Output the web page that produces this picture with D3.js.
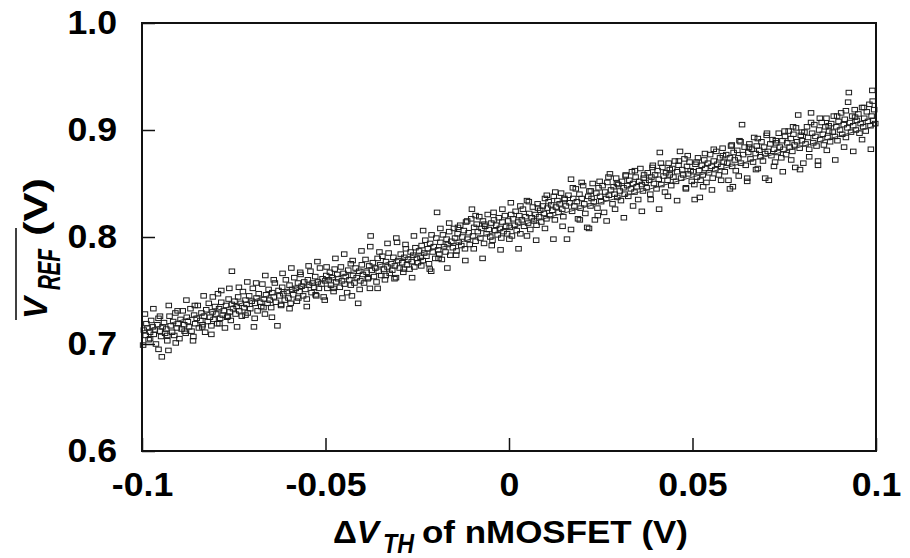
<!DOCTYPE html>
<html>
<head>
<meta charset="utf-8">
<script src="https://cdn.jsdelivr.net/npm/d3@7"></script>
<style>
  body { margin: 0; background: #fff; }
  text { font-family: "Liberation Sans", Arial, sans-serif; font-weight: bold; }
</style>
</head>
<body>
<script>
// ticks
var xTicks = [-0.1, -0.05, 0, 0.05, 0.1];
var xTickLabels = ["-0.1", "-0.05", "0", "0.05", "0.1"];
var yTicks = [0.6, 0.7, 0.8, 0.9, 1.0];
var yTickLabels = ["0.6", "0.7", "0.8", "0.9", "1.0"];

// fitted line
var fitX = [-0.1, 0.1];
var fitY = [0.712, 0.904];

var ptsA = [[-0.0995,0.713],[-0.0990,0.708],[-0.0988,0.719],[-0.0985,0.715],[-0.0982,0.704],[-0.0978,0.711],[-0.0975,0.722],[-0.0971,0.716],[-0.0968,0.709],[-0.0965,0.713],[-0.0962,0.700],[-0.0958,0.718],[-0.0955,0.724],[-0.0951,0.712],[-0.0948,0.707],[-0.0946,0.688],[-0.0944,0.716],[-0.0940,0.720],[-0.0937,0.710],[-0.0934,0.714],[-0.0931,0.703],[-0.0928,0.694],[-0.0925,0.726],[-0.0922,0.717],[-0.0918,0.711],[-0.0915,0.721],[-0.0912,0.708],[-0.0909,0.729],[-0.0905,0.715],[-0.0902,0.719],[-0.0898,0.705],[-0.0895,0.723],[-0.0892,0.714],[-0.0889,0.731],[-0.0885,0.718],[-0.0881,0.710],[-0.0878,0.725],[-0.0875,0.721],[-0.0872,0.716],[-0.0868,0.733],[-0.0865,0.712],[-0.0861,0.703],[-0.0858,0.727],[-0.0855,0.719],[-0.0851,0.724],[-0.0848,0.736],[-0.0845,0.715],[-0.0841,0.722],[-0.0838,0.729],[-0.0835,0.718],[-0.0831,0.726],[-0.0828,0.711],[-0.0825,0.732],[-0.0821,0.721],[-0.0818,0.738],[-0.0815,0.725],[-0.0811,0.717],[-0.0808,0.730],[-0.0805,0.723],[-0.0801,0.735],[-0.0798,0.728],[-0.0795,0.719],[-0.0793,0.747],[-0.0790,0.733],[-0.0787,0.724],[-0.0784,0.739],[-0.0780,0.727],[-0.0777,0.731],[-0.0774,0.715],[-0.0771,0.736],[-0.0768,0.725],[-0.0764,0.742],[-0.0761,0.730],[-0.0758,0.722],[-0.0755,0.768],[-0.0755,0.737],[-0.0752,0.733]];
var ptsB = [[-0.0748,0.740],[-0.0745,0.728],[-0.0742,0.735],[-0.0738,0.744],[-0.0735,0.731],[-0.0731,0.738],[-0.0728,0.726],[-0.0725,0.749],[-0.0722,0.734],[-0.0718,0.741],[-0.0715,0.737],[-0.0712,0.729],[-0.0708,0.745],[-0.0705,0.733],[-0.0701,0.740],[-0.0698,0.752],[-0.0695,0.716],[-0.0692,0.738],[-0.0688,0.743],[-0.0685,0.731],[-0.0682,0.747],[-0.0678,0.739],[-0.0675,0.735],[-0.0672,0.756],[-0.0668,0.742],[-0.0665,0.728],[-0.0662,0.746],[-0.0658,0.738],[-0.0655,0.751],[-0.0652,0.741],[-0.0648,0.734],[-0.0645,0.748],[-0.0641,0.744],[-0.0638,0.757],[-0.0635,0.739],[-0.0631,0.717],[-0.0628,0.750],[-0.0625,0.745],[-0.0621,0.736],[-0.0618,0.753],[-0.0615,0.747],[-0.0611,0.741],[-0.0608,0.760],[-0.0605,0.749],[-0.0601,0.743],[-0.0598,0.755],[-0.0595,0.738],[-0.0591,0.751],[-0.0588,0.746],[-0.0585,0.762],[-0.0581,0.752],[-0.0578,0.740],[-0.0575,0.757],[-0.0571,0.749],[-0.0568,0.765],[-0.0565,0.754],[-0.0561,0.745],[-0.0558,0.758],[-0.0555,0.751],[-0.0551,0.742],[-0.0548,0.760],[-0.0545,0.755],[-0.0541,0.768],[-0.0538,0.748],[-0.0535,0.757],[-0.0531,0.753],[-0.0528,0.763],[-0.0525,0.745],[-0.0521,0.758],[-0.0518,0.752],[-0.0515,0.771],[-0.0511,0.756],[-0.0508,0.761],[-0.0505,0.744],[-0.0501,0.759]];
var ptsC = [[-0.0498,0.764],[-0.0495,0.752],[-0.0491,0.760],[-0.0488,0.767],[-0.0485,0.755],[-0.0481,0.762],[-0.0478,0.749],[-0.0475,0.770],[-0.0471,0.758],[-0.0468,0.765],[-0.0465,0.761],[-0.0461,0.753],[-0.0458,0.772],[-0.0455,0.759],[-0.0451,0.766],[-0.0448,0.756],[-0.0445,0.763],[-0.0441,0.748],[-0.0438,0.769],[-0.0435,0.760],[-0.0431,0.775],[-0.0428,0.745],[-0.0425,0.764],[-0.0421,0.757],[-0.0418,0.771],[-0.0415,0.762],[-0.0411,0.738],[-0.0408,0.768],[-0.0405,0.759],[-0.0401,0.774],[-0.0398,0.765],[-0.0395,0.757],[-0.0391,0.779],[-0.0388,0.767],[-0.0385,0.761],[-0.0381,0.773],[-0.0379,0.752],[-0.0377,0.801],[-0.0374,0.769],[-0.0371,0.776],[-0.0368,0.763],[-0.0364,0.771],[-0.0361,0.758],[-0.0358,0.780],[-0.0355,0.768],[-0.0351,0.774],[-0.0348,0.764],[-0.0345,0.782],[-0.0341,0.770],[-0.0338,0.760],[-0.0335,0.777],[-0.0331,0.772],[-0.0328,0.785],[-0.0325,0.766],[-0.0321,0.775],[-0.0318,0.769],[-0.0315,0.781],[-0.0311,0.773],[-0.0308,0.762],[-0.0305,0.795],[-0.0302,0.778],[-0.0298,0.771],[-0.0295,0.784],[-0.0291,0.776],[-0.0288,0.767],[-0.0285,0.781],[-0.0281,0.789],[-0.0278,0.774],[-0.0275,0.779],[-0.0271,0.770],[-0.0268,0.786],[-0.0265,0.777],[-0.0261,0.783],[-0.0258,0.772],[-0.0255,0.790],[-0.0251,0.780]];
var ptsD = [[-0.0248,0.776],[-0.0245,0.787],[-0.0241,0.781],[-0.0238,0.792],[-0.0235,0.778],[-0.0231,0.785],[-0.0228,0.797],[-0.0225,0.782],[-0.0221,0.789],[-0.0218,0.775],[-0.0215,0.794],[-0.0212,0.768],[-0.0208,0.786],[-0.0205,0.791],[-0.0201,0.780],[-0.0198,0.799],[-0.0196,0.823],[-0.0193,0.788],[-0.0190,0.784],[-0.0187,0.795],[-0.0183,0.779],[-0.0180,0.802],[-0.0177,0.791],[-0.0173,0.786],[-0.0170,0.798],[-0.0167,0.793],[-0.0163,0.805],[-0.0160,0.783],[-0.0157,0.796],[-0.0153,0.790],[-0.0150,0.808],[-0.0147,0.799],[-0.0143,0.787],[-0.0140,0.803],[-0.0137,0.795],[-0.0133,0.811],[-0.0130,0.792],[-0.0127,0.800],[-0.0123,0.806],[-0.0120,0.789],[-0.0117,0.814],[-0.0113,0.798],[-0.0110,0.804],[-0.0107,0.793],[-0.0103,0.817],[-0.0101,0.826],[-0.0098,0.801],[-0.0095,0.809],[-0.0091,0.796],[-0.0088,0.812],[-0.0085,0.805],[-0.0081,0.819],[-0.0078,0.799],[-0.0075,0.808],[-0.0071,0.815],[-0.0068,0.794],[-0.0065,0.810],[-0.0061,0.803],[-0.0058,0.821],[-0.0055,0.807],[-0.0051,0.800],[-0.0048,0.813],[-0.0045,0.797],[-0.0041,0.816],[-0.0038,0.806],[-0.0035,0.811],[-0.0031,0.802],[-0.0028,0.818],[-0.0025,0.808],[-0.0021,0.799],[-0.0018,0.814],[-0.0015,0.805],[-0.0011,0.820],[-0.0008,0.810],[-0.0005,0.803],[-0.0002,0.815]];
var ptsE = [[0.0002,0.809],[0.0005,0.832],[0.0008,0.801],[0.0011,0.817],[0.0015,0.811],[0.0018,0.824],[0.0021,0.806],[0.0025,0.814],[0.0028,0.820],[0.0031,0.803],[0.0035,0.816],[0.0038,0.826],[0.0041,0.810],[0.0045,0.819],[0.0049,0.834],[0.0052,0.813],[0.0055,0.822],[0.0058,0.807],[0.0062,0.818],[0.0065,0.828],[0.0068,0.815],[0.0072,0.821],[0.0075,0.811],[0.0078,0.831],[0.0082,0.819],[0.0085,0.825],[0.0088,0.814],[0.0092,0.829],[0.0095,0.822],[0.0098,0.836],[0.0102,0.817],[0.0105,0.827],[0.0108,0.833],[0.0112,0.820],[0.0115,0.830],[0.0118,0.825],[0.0122,0.838],[0.0125,0.816],[0.0128,0.828],[0.0132,0.834],[0.0135,0.823],[0.0138,0.831],[0.0142,0.841],[0.0145,0.826],[0.0148,0.819],[0.0152,0.835],[0.0155,0.829],[0.0158,0.798],[0.0162,0.839],[0.0165,0.832],[0.0169,0.854],[0.0172,0.824],[0.0175,0.836],[0.0178,0.829],[0.0182,0.845],[0.0185,0.833],[0.0188,0.817],[0.0192,0.840],[0.0195,0.827],[0.0198,0.836],[0.0202,0.848],[0.0205,0.831],[0.0208,0.822],[0.0213,0.809],[0.0216,0.838],[0.0219,0.843],[0.0222,0.829],[0.0225,0.836],[0.0228,0.850],[0.0231,0.833],[0.0234,0.816],[0.0238,0.841],[0.0241,0.827],[0.0244,0.846],[0.0248,0.838]];
var ptsF = [[0.0251,0.833],[0.0255,0.848],[0.0259,0.823],[0.0262,0.842],[0.0265,0.836],[0.0268,0.851],[0.0272,0.839],[0.0275,0.859],[0.0278,0.844],[0.0282,0.831],[0.0285,0.847],[0.0288,0.840],[0.0292,0.855],[0.0295,0.837],[0.0298,0.849],[0.0302,0.843],[0.0305,0.834],[0.0308,0.852],[0.0312,0.846],[0.0315,0.840],[0.0318,0.857],[0.0322,0.848],[0.0325,0.838],[0.0328,0.853],[0.0332,0.845],[0.0335,0.861],[0.0338,0.850],[0.0342,0.842],[0.0345,0.856],[0.0348,0.847],[0.0352,0.835],[0.0355,0.852],[0.0358,0.864],[0.0362,0.849],[0.0365,0.843],[0.0368,0.858],[0.0372,0.851],[0.0375,0.846],[0.0378,0.860],[0.0382,0.853],[0.0385,0.840],[0.0388,0.856],[0.0392,0.867],[0.0395,0.850],[0.0398,0.858],[0.0402,0.845],[0.0405,0.862],[0.0408,0.854],[0.0411,0.879],[0.0415,0.849],[0.0418,0.865],[0.0421,0.857],[0.0425,0.842],[0.0428,0.860],[0.0432,0.853],[0.0435,0.869],[0.0438,0.858],[0.0442,0.848],[0.0445,0.864],[0.0448,0.856],[0.0452,0.871],[0.0455,0.852],[0.0458,0.861],[0.0462,0.867],[0.0466,0.880],[0.0469,0.855],[0.0472,0.863],[0.0475,0.858],[0.0478,0.873],[0.0482,0.846],[0.0485,0.866],[0.0488,0.859],[0.0492,0.870],[0.0495,0.862],[0.0498,0.852]];
var ptsG = [[0.0502,0.861],[0.0505,0.849],[0.0508,0.868],[0.0512,0.856],[0.0515,0.874],[0.0518,0.862],[0.0520,0.837],[0.0522,0.853],[0.0525,0.867],[0.0528,0.858],[0.0532,0.872],[0.0535,0.864],[0.0538,0.851],[0.0542,0.869],[0.0545,0.860],[0.0548,0.877],[0.0552,0.866],[0.0555,0.855],[0.0558,0.871],[0.0562,0.863],[0.0565,0.880],[0.0568,0.868],[0.0572,0.858],[0.0575,0.874],[0.0578,0.866],[0.0582,0.883],[0.0585,0.870],[0.0588,0.861],[0.0592,0.877],[0.0595,0.869],[0.0598,0.853],[0.0602,0.874],[0.0605,0.885],[0.0608,0.866],[0.0610,0.847],[0.0612,0.879],[0.0615,0.872],[0.0618,0.862],[0.0622,0.881],[0.0625,0.874],[0.0628,0.890],[0.0632,0.869],[0.0635,0.905],[0.0638,0.877],[0.0642,0.884],[0.0645,0.867],[0.0649,0.855],[0.0652,0.879],[0.0655,0.887],[0.0658,0.873],[0.0662,0.882],[0.0665,0.870],[0.0668,0.893],[0.0672,0.878],[0.0675,0.885],[0.0678,0.864],[0.0682,0.881],[0.0685,0.875],[0.0688,0.889],[0.0692,0.871],[0.0695,0.884],[0.0698,0.878],[0.0702,0.895],[0.0705,0.880],[0.0708,0.853],[0.0712,0.887],[0.0715,0.876],[0.0718,0.891],[0.0722,0.882],[0.0725,0.870],[0.0728,0.888],[0.0732,0.879],[0.0735,0.897],[0.0738,0.884],[0.0742,0.874],[0.0745,0.890]];
var ptsH = [[0.0748,0.882],[0.0752,0.894],[0.0755,0.877],[0.0758,0.888],[0.0762,0.899],[0.0765,0.884],[0.0768,0.892],[0.0772,0.880],[0.0775,0.896],[0.0778,0.886],[0.0780,0.865],[0.0782,0.902],[0.0785,0.889],[0.0788,0.914],[0.0792,0.883],[0.0795,0.895],[0.0798,0.890],[0.0802,0.869],[0.0805,0.898],[0.0808,0.887],[0.0812,0.903],[0.0815,0.893],[0.0818,0.882],[0.0823,0.916],[0.0826,0.897],[0.0829,0.888],[0.0832,0.905],[0.0835,0.894],[0.0838,0.885],[0.0842,0.867],[0.0845,0.900],[0.0848,0.891],[0.0852,0.907],[0.0855,0.896],[0.0858,0.886],[0.0862,0.903],[0.0865,0.911],[0.0868,0.893],[0.0872,0.899],[0.0875,0.889],[0.0878,0.906],[0.0882,0.898],[0.0885,0.913],[0.0888,0.894],[0.0892,0.903],[0.0895,0.890],[0.0898,0.908],[0.0902,0.900],[0.0905,0.916],[0.0908,0.896],[0.0912,0.905],[0.0915,0.910],[0.0918,0.893],[0.0922,0.902],[0.0924,0.926],[0.0926,0.935],[0.0929,0.907],[0.0932,0.898],[0.0935,0.913],[0.0938,0.904],[0.0942,0.919],[0.0945,0.900],[0.0948,0.909],[0.0952,0.915],[0.0955,0.897],[0.0958,0.906],[0.0962,0.921],[0.0965,0.903],[0.0968,0.911],[0.0972,0.899],[0.0975,0.917],[0.0978,0.908],[0.0982,0.924],[0.0985,0.904],[0.0988,0.913],[0.0990,0.937],[0.0992,0.909],[0.0995,0.919],[0.0998,0.906]];
// wider edges of the band
var ptsUpper = [[-0.0992,0.728],[-0.0969,0.733],[-0.0951,0.726],[-0.0927,0.736],[-0.0903,0.731],[-0.0879,0.741],[-0.0856,0.736],[-0.0832,0.745],[-0.0807,0.744],[-0.0784,0.750],[-0.0762,0.752],[-0.0736,0.753],[-0.0713,0.758],[-0.0689,0.757],[-0.0664,0.764],[-0.0641,0.760],[-0.0617,0.766],[-0.0593,0.771],[-0.0569,0.767],[-0.0546,0.773],[-0.0522,0.777],[-0.0497,0.772],[-0.0473,0.780],[-0.0449,0.784],[-0.0426,0.778],[-0.0402,0.787],[-0.0378,0.791],[-0.0353,0.786],[-0.0331,0.794],[-0.0307,0.799],[-0.0282,0.793],[-0.0259,0.801],[-0.0234,0.806],[-0.0211,0.802],[-0.0187,0.808],[-0.0163,0.813],[-0.0139,0.809],[-0.0114,0.815],[-0.0091,0.820],[-0.0067,0.812],[-0.0042,0.823],[-0.0018,0.826],[0.0006,0.821],[0.0031,0.829],[0.0054,0.833],[0.0079,0.827],[0.0103,0.839],[0.0126,0.842],[0.0151,0.836],[0.0174,0.846],[0.0198,0.851],[0.0223,0.843],[0.0247,0.852],[0.0271,0.856],[0.0294,0.850],[0.0318,0.858],[0.0343,0.862],[0.0367,0.855],[0.0391,0.865],[0.0414,0.869],[0.0438,0.863],[0.0463,0.871],[0.0487,0.876],[0.0511,0.870],[0.0534,0.878],[0.0558,0.882],[0.0583,0.876],[0.0607,0.886],[0.0631,0.889],[0.0654,0.884],[0.0678,0.892],[0.0703,0.897],[0.0727,0.890],[0.0751,0.899],[0.0774,0.903],[0.0798,0.898],[0.0823,0.907],[0.0847,0.911],[0.0871,0.904],[0.0894,0.913],[0.0918,0.918],[0.0943,0.912],[0.0967,0.921],[0.0991,0.927]];
var ptsLower = [[-0.0997,0.699],[-0.0978,0.705],[-0.0955,0.695],[-0.0931,0.708],[-0.0908,0.701],[-0.0884,0.712],[-0.0860,0.707],[-0.0836,0.716],[-0.0811,0.709],[-0.0789,0.719],[-0.0766,0.726],[-0.0741,0.716],[-0.0718,0.727],[-0.0693,0.724],[-0.0669,0.734],[-0.0646,0.725],[-0.0621,0.737],[-0.0598,0.733],[-0.0574,0.743],[-0.0551,0.735],[-0.0527,0.746],[-0.0502,0.741],[-0.0478,0.752],[-0.0454,0.743],[-0.0431,0.755],[-0.0407,0.751],[-0.0383,0.762],[-0.0358,0.752],[-0.0336,0.764],[-0.0312,0.761],[-0.0287,0.770],[-0.0264,0.762],[-0.0239,0.773],[-0.0216,0.770],[-0.0192,0.780],[-0.0168,0.771],[-0.0144,0.783],[-0.0119,0.778],[-0.0096,0.789],[-0.0072,0.780],[-0.0047,0.792],[-0.0023,0.788],[0.0001,0.798],[0.0026,0.789],[0.0049,0.801],[0.0074,0.797],[0.0098,0.808],[0.0121,0.798],[0.0146,0.810],[0.0169,0.807],[0.0193,0.816],[0.0218,0.808],[0.0242,0.820],[0.0266,0.815],[0.0289,0.826],[0.0313,0.818],[0.0338,0.829],[0.0362,0.824],[0.0386,0.835],[0.0409,0.826],[0.0433,0.838],[0.0458,0.834],[0.0482,0.845],[0.0506,0.835],[0.0529,0.847],[0.0553,0.844],[0.0578,0.853],[0.0602,0.845],[0.0626,0.857],[0.0649,0.852],[0.0673,0.863],[0.0698,0.855],[0.0722,0.866],[0.0746,0.861],[0.0769,0.872],[0.0793,0.863],[0.0818,0.875],[0.0842,0.871],[0.0866,0.881],[0.0889,0.872],[0.0913,0.884],[0.0938,0.880],[0.0962,0.891],[0.0986,0.882]];

var points = ptsA.concat(ptsB, ptsC, ptsD, ptsE, ptsF, ptsG, ptsH, ptsUpper, ptsLower);

var svg = d3.select("body").append("svg")
  .attr("width", 910)
  .attr("height", 558);

var x = d3.scaleLinear().domain([-0.1, 0.1]).range([142, 876]);
var y = d3.scaleLinear().domain([0.6, 1.0]).range([451, 23]);

// 把文字横向拉宽一点，原图字形偏宽
function widen(sel, k) {
  sel.each(function () {
    var w = this.getComputedTextLength();
    d3.select(this).attr("textLength", w * k).attr("lengthAdjust", "spacingAndGlyphs");
  });
}

// 坐标轴，刻度朝内
var xAxis = svg.append("g")
  .attr("transform", "translate(0,451)")
  .call(d3.axisBottom(x).tickValues(xTicks).tickSize(-13).tickPadding(22)
    .tickFormat(function (d, i) { return xTickLabels[i]; }));
var yAxis = svg.append("g")
  .attr("transform", "translate(142,0)")
  .call(d3.axisLeft(y).tickValues(yTicks).tickSize(-13).tickPadding(25)
    .tickFormat(function (d, i) { return yTickLabels[i]; }));

[xAxis, yAxis].forEach(function (a) {
  a.attr("font-size", null).attr("font-family", null);
  a.select(".domain").remove();
  a.selectAll(".tick line").attr("stroke", "#111").attr("stroke-width", 1.5);
  a.selectAll(".tick text").attr("fill", "#000").style("font-size", "33px");
  widen(a.selectAll(".tick text"), 1.08);
});

// 散点
svg.append("g").selectAll("rect")
  .data(points)
  .enter().append("rect")
  .attr("x", function (d) { return x(d[0]) - 2.75; })
  .attr("y", function (d) { return y(d[1]) - 2.25; })
  .attr("width", 5.5)
  .attr("height", 4.5)
  .attr("fill", "none")
  .attr("stroke", "#1a1a1a")
  .attr("stroke-width", 1);

// 拟合线
svg.append("line")
  .attr("x1", x(fitX[0])).attr("y1", y(fitY[0]))
  .attr("x2", x(fitX[1])).attr("y2", y(fitY[1]))
  .attr("stroke", "#333")
  .attr("stroke-width", 1);

// 边框
svg.append("rect")
  .attr("x", 142).attr("y", 23)
  .attr("width", 734).attr("height", 428)
  .attr("fill", "none")
  .attr("stroke", "#111")
  .attr("stroke-width", 2);

// x 轴标题
var xa = svg.append("text")
  .attr("x", 333).attr("y", 543)
  .attr("textLength", 46).attr("lengthAdjust", "spacingAndGlyphs")
  .style("font-size", "32px");
xa.append("tspan").text("\u0394");
xa.append("tspan").style("font-style", "italic").text("V");
svg.append("text")
  .attr("x", 383).attr("y", 553)
  .attr("textLength", 31).attr("lengthAdjust", "spacingAndGlyphs")
  .style("font-size", "28px").style("font-style", "italic")
  .text("TH");
svg.append("text")
  .attr("x", 422).attr("y", 543)
  .attr("textLength", 266).attr("lengthAdjust", "spacingAndGlyphs")
  .style("font-size", "32px")
  .text("of nMOSFET (V)");

// y 轴标题，带上划线
var yg = svg.append("g").attr("transform", "translate(47,320) rotate(-90)");
yg.append("text")
  .attr("x", 1).attr("y", 0)
  .style("font-size", "33px").style("font-style", "italic")
  .text("V");
yg.append("text")
  .attr("x", 30).attr("y", 13)
  .attr("textLength", 41).attr("lengthAdjust", "spacingAndGlyphs")
  .style("font-size", "31px").style("font-style", "italic")
  .text("REF");
yg.append("text")
  .attr("x", 84).attr("y", 0)
  .attr("textLength", 58).attr("lengthAdjust", "spacingAndGlyphs")
  .style("font-size", "33px")
  .text("(V)");
yg.append("line")
  .attr("x1", 0).attr("x2", 92)
  .attr("y1", -31).attr("y2", -31)
  .attr("stroke", "#000")
  .attr("stroke-width", 1.5);
</script>
</body>
</html>
